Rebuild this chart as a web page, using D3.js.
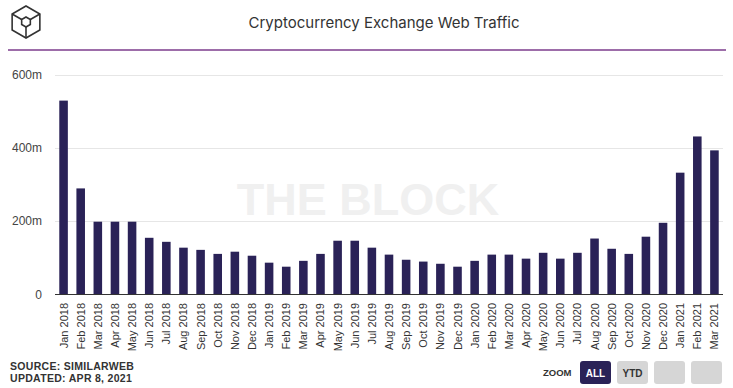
<!DOCTYPE html>
<html lang="en">
<head>
<meta charset="UTF-8">
<title>Cryptocurrency Exchange Web Traffic</title>
<script src="https://cdn.jsdelivr.net/npm/d3@7"></script>
<style>
    body { margin: 0; background: #fff; }
    svg { display: block; font-family: "Liberation Sans", Arial, sans-serif; }
</style>
</head>
<body>
<svg id="chart" width="733" height="388"></svg>
<script>
    var months = ["Jan 2018", "Feb 2018", "Mar 2018", "Apr 2018", "May 2018", "Jun 2018", "Jul 2018", "Aug 2018",
        "Sep 2018", "Oct 2018", "Nov 2018", "Dec 2018", "Jan 2019", "Feb 2019", "Mar 2019", "Apr 2019", "May 2019",
        "Jun 2019", "Jul 2019", "Aug 2019", "Sep 2019", "Oct 2019", "Nov 2019", "Dec 2019", "Jan 2020", "Feb 2020",
        "Mar 2020", "Apr 2020", "May 2020", "Jun 2020", "Jul 2020", "Aug 2020", "Sep 2020", "Oct 2020", "Nov 2020",
        "Dec 2020", "Jan 2021", "Feb 2021", "Mar 2021"];
    // monthly visits, millions
    var visits = [530, 290, 199, 199, 199, 155, 144, 128, 122, 111, 117, 106, 87, 76, 92, 111, 147, 147, 128, 109,
        95, 90, 84, 76, 92, 109, 109, 98, 114, 98, 114, 153, 125, 111, 158, 196, 333, 432, 394];
    var yTicks = [0, 200, 400, 600];
    var zoomButtons = ["ALL", "YTD", "", ""];

    var svg = d3.select("#chart");
    var plotLeft = 55, plotRight = 723, plotTop = 75, plotBottom = 294.5;

    var x = d3.scaleBand().domain(months).range([plotLeft, plotRight]).paddingInner(0.5).paddingOuter(0.25);
    var y = d3.scaleLinear().domain([0, 600]).range([plotBottom, plotTop]);

    // logo
    var logo = svg.append("g").attr("transform", "translate(26,22)")
        .attr("fill", "none").attr("stroke", "#333").attr("stroke-width", 1.6);
    var hex = d3.range(6).map(function (i) {
        var a = Math.PI / 3 * i - Math.PI / 2;
        return [16 * Math.cos(a), 16 * Math.sin(a)];
    });
    var inner = d3.range(6).map(function (i) {
        var a = Math.PI / 3 * i - Math.PI / 2;
        return [5 * Math.cos(a), 5 * Math.sin(a)];
    });
    logo.append("path").attr("d", "M" + hex.join("L") + "Z");
    logo.append("path").attr("d", "M" + inner.join("L") + "Z");
    [5, 1, 3].forEach(function (i) {
        logo.append("line").attr("x1", inner[i][0]).attr("y1", inner[i][1])
            .attr("x2", hex[i][0]).attr("y2", hex[i][1]);
    });

    svg.append("text").attr("x", 384).attr("y", 28).attr("text-anchor", "middle")
        .attr("font-family", "Inter, sans-serif").attr("font-size", 15).attr("fill", "#333")
        .text("Cryptocurrency Exchange Web Traffic");
    svg.append("line").attr("x1", 8).attr("x2", 726).attr("y1", 50).attr("y2", 50)
        .attr("stroke", "#7d3c8c").attr("stroke-width", 1.5);

    // watermark
    svg.append("text").attr("x", 368).attr("y", 215).attr("text-anchor", "middle")
        .attr("font-size", 45).attr("font-weight", "bold").attr("fill", "#f0f0f0")
        .text("THE BLOCK");

    // grid + y labels
    svg.selectAll(".grid").data(yTicks.slice(1)).enter().append("line")
        .attr("x1", plotLeft).attr("x2", plotRight)
        .attr("y1", function (d) { return Math.round(y(d)) + 0.5; })
        .attr("y2", function (d) { return Math.round(y(d)) + 0.5; })
        .attr("stroke", "#e6e6e6");
    svg.selectAll(".ylab").data(yTicks).enter().append("text")
        .attr("x", 42).attr("y", function (d) { return y(d) + 4; })
        .attr("text-anchor", "end").attr("font-size", 12).attr("fill", "#444")
        .text(function (d) { return d === 0 ? "0" : d + "m"; });

    svg.selectAll(".bar").data(visits).enter().append("rect")
        .attr("x", function (d, i) { return x(months[i]); })
        .attr("width", x.bandwidth())
        .attr("y", function (d) { return y(d); })
        .attr("height", function (d) { return plotBottom - y(d); })
        .attr("fill", "#2a2257");

    svg.append("line").attr("x1", plotLeft).attr("x2", plotRight).attr("y1", plotBottom).attr("y2", plotBottom)
        .attr("stroke", "#333").attr("stroke-width", 1);

    svg.selectAll(".xlab").data(months).enter().append("text")
        .attr("transform", function (d) {
            return "translate(" + (x(d) + x.bandwidth() / 2 + 4) + ",303) rotate(-90)";
        })
        .attr("text-anchor", "end").attr("font-size", 11).attr("fill", "#333")
        .text(function (d) { return d; });

    // footer
    svg.append("text").attr("x", 10).attr("y", 370).attr("font-size", 10.5).attr("font-weight", "bold")
        .attr("fill", "#333").attr("letter-spacing", 0.3).text("SOURCE: SIMILARWEB");
    svg.append("text").attr("x", 10).attr("y", 382).attr("font-size", 10.5).attr("font-weight", "bold")
        .attr("fill", "#333").attr("letter-spacing", 0.3).text("UPDATED: APR 8, 2021");

    svg.append("text").attr("x", 543).attr("y", 376).attr("font-size", 9.5).attr("font-weight", "bold")
        .attr("fill", "#333").text("ZOOM");
    var btn = svg.selectAll(".btn").data(zoomButtons).enter().append("g")
        .attr("transform", function (d, i) { return "translate(" + [580, 617, 654, 691][i] + ",361)"; });
    btn.append("rect").attr("width", 31).attr("height", 23).attr("rx", 3)
        .attr("fill", function (d, i) { return i === 0 ? "#2a2257" : "#d6d6d6"; });
    btn.append("text").attr("x", 15.5).attr("y", 15.5).attr("text-anchor", "middle")
        .attr("font-size", 10).attr("font-weight", "bold")
        .attr("fill", function (d, i) { return i === 0 ? "#fff" : "#333"; })
        .text(function (d) { return d; });
</script>
</body>
</html>
